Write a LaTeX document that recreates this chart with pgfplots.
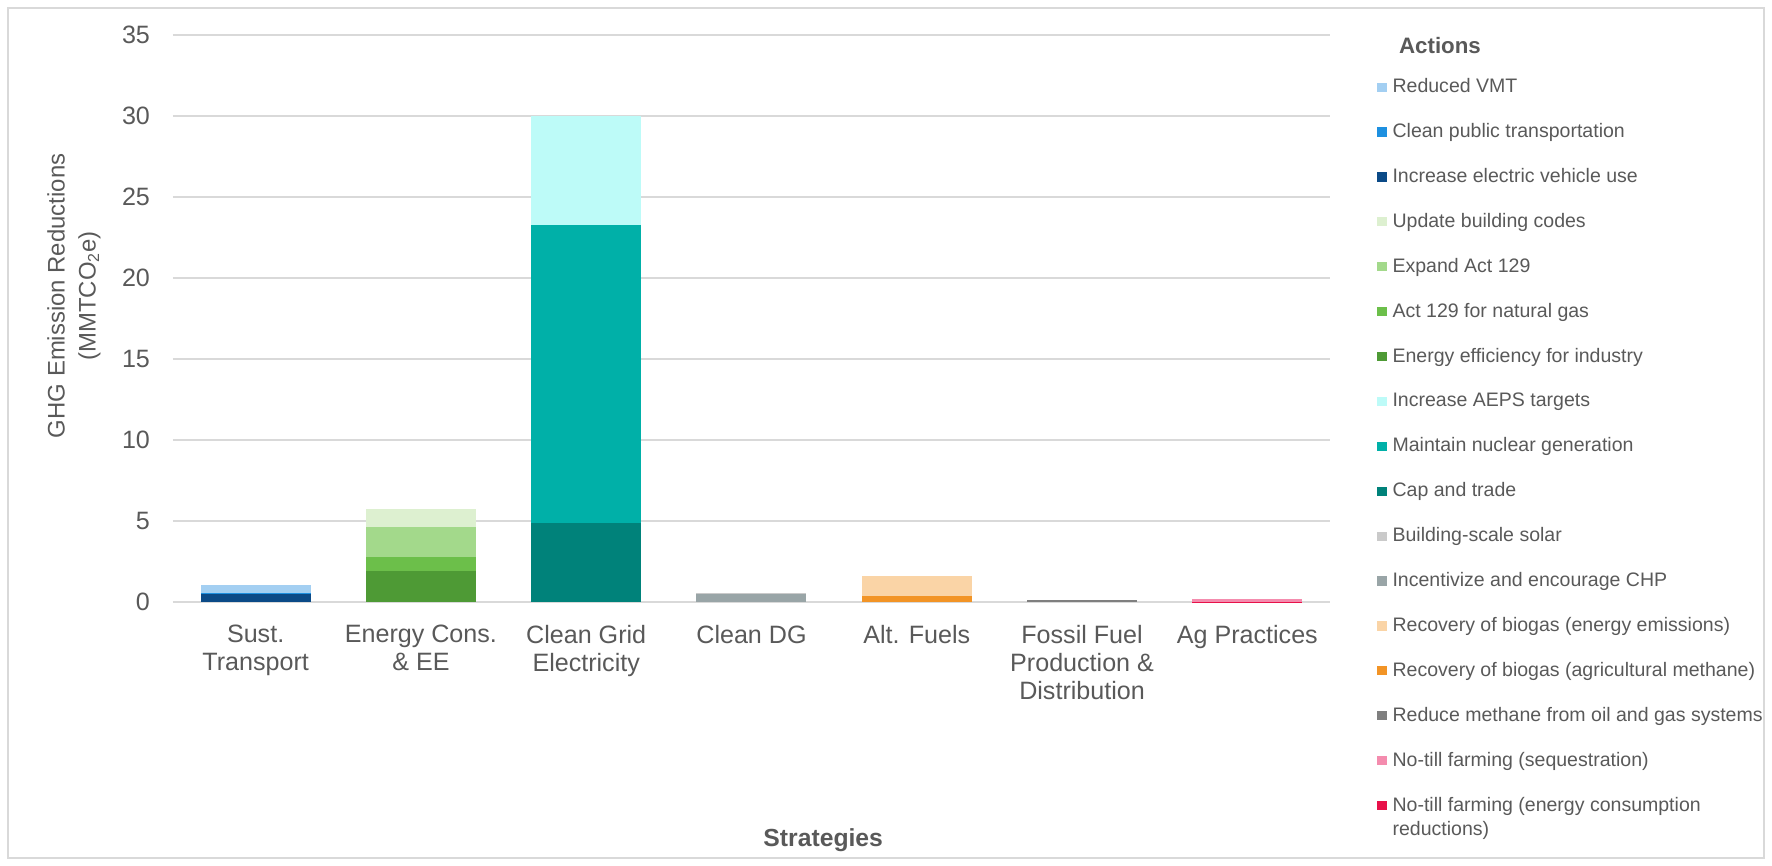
\documentclass[border=0pt]{standalone}
\usepackage{pgfplots}
\pgfplotsset{compat=1.18}
\usepackage{pgfplotstable}
\usepackage{fontspec}
\setmainfont{Liberation Sans}

\definecolor{txt}{HTML}{595959}
\definecolor{gridc}{HTML}{D9D9D9}
\definecolor{framec}{HTML}{D9D9D9}
\definecolor{c1}{HTML}{A3CFF2}
\definecolor{c2}{HTML}{1E90E0}
\definecolor{c3}{HTML}{0B4A87}
\definecolor{c4}{HTML}{DDF0D0}
\definecolor{c5}{HTML}{A3D98B}
\definecolor{c6}{HTML}{6CBF4A}
\definecolor{c7}{HTML}{4E9A35}
\definecolor{c8}{HTML}{BDFBF8}
\definecolor{c9}{HTML}{00B0A8}
\definecolor{c10}{HTML}{00827A}
\definecolor{c11}{HTML}{CACACA}
\definecolor{c12}{HTML}{99A5A7}
\definecolor{c13}{HTML}{FAD4A6}
\definecolor{c14}{HTML}{F29426}
\definecolor{c15}{HTML}{7F7F7F}
\definecolor{c16}{HTML}{F48CAE}
\definecolor{c17}{HTML}{E8114A}

\pgfplotstableread{
x  s1   s2   s3   s4   s5   s6   s7   s8   s9    s10  s11  s12  s13  s14  s15  s16  s17
0  0.50 0.02 0.52 0    0    0    0    0    0     0    0    0    0    0    0    0    0
1  0    0    0    1.12 1.88 0.85 1.90 0    0     0    0    0    0    0    0    0    0
2  0    0    0    0    0    0    0    6.70 18.45 4.85 0    0    0    0    0    0    0
3  0    0    0    0    0    0    0    0    0     0    0.04 0.52 0    0    0    0    0
4  0    0    0    0    0    0    0    0    0     0    0    0    1.23 0.39 0    0    0
5  0    0    0    0    0    0    0    0    0     0    0    0    0    0    0.10 0    0
6  0    0    0    0    0    0    0    0    0     0    0    0    0    0    0    0.15 0.03
}\data

\pgfplotsset{
  sq/.style={legend image code/.code={\fill[##1] (0bp,-2.3bp) rectangle (4.6bp,2.3bp);}},
  B/.style={fill=#1, draw=none, sq},
}

\newcommand{\fs}{\fontsize{9.8}{12.2}\selectfont}
\newcommand{\fa}{\fontsize{12.6}{14.2}\selectfont}
\newcommand{\fy}{\fontsize{12}{15.5}\selectfont}

\begin{document}
\begin{tikzpicture}
\useasboundingbox (-86.5bp,-132bp) rectangle (799.5bp,301bp);
\draw[framec, line width=0.7bp] (-82.5bp,-128bp) rectangle (795.5bp,297bp);
\begin{axis}[
  scale only axis,
  clip=false,
  width=578.5bp, height=283.5bp,
  ybar stacked,
  bar width=55bp,
  xmin=-0.5, xmax=6.5,
  ymin=0, ymax=35,
  ytick={0,5,...,35},
  xtick={0,...,6},
  xticklabels={{Sust.\\Transport},{Energy Cons.\\\& EE},{Clean Grid\\Electricity},{Clean DG},{Alt. Fuels},{Fossil Fuel\\Production \&\\Distribution},{Ag Practices}},
  /pgf/number format/assume math mode=true,
  axis x line*=bottom,
  axis y line*=left,
  y axis line style={draw=none},
  x axis line style={draw=gridc, line width=0.7bp},
  major tick length=0pt,
  ymajorgrids,
  grid style={draw=gridc, line width=0.7bp},
  yticklabel style={font=\fa, color=txt, xshift=-8bp},
  xticklabel style={font=\fa, color=txt, align=center, yshift=-8bp},
  ylabel={GHG Emission Reductions\\(MMTCO\textsubscript{2}e)},
  ylabel style={font=\fy, color=txt, align=center, at={(axis description cs:-0.0856,0.54)}, anchor=center},
  xlabel={Strategies},
  xlabel style={font=\fontsize{12.4}{14}\selectfont\bfseries, color=txt, at={(axis description cs:0.562,-0.42)}, anchor=center},
  reverse legend,
  legend cell align=left,
  legend style={draw=none, fill=none, at={(1.0406,0.9273)}, anchor=north west,
    inner sep=0pt, row sep=11.95bp, font=\fs, text=txt,
    nodes={inner ysep=0pt, inner xsep=3bp, text height=8bp, text depth=2.5bp}},
]
\addplot[B=c17] table[x=x, y=s17] {\data}; \addlegendentry{\parbox[t]{200bp}{\raggedright No-till farming (energy consumption\newline reductions)}}
\addplot[B=c16] table[x=x, y=s16] {\data}; \addlegendentry{No-till farming (sequestration)}
\addplot[B=c15] table[x=x, y=s15] {\data}; \addlegendentry{Reduce methane from oil and gas systems}
\addplot[B=c14] table[x=x, y=s14] {\data}; \addlegendentry{Recovery of biogas (agricultural methane)}
\addplot[B=c13] table[x=x, y=s13] {\data}; \addlegendentry{Recovery of biogas (energy emissions)}
\addplot[B=c12] table[x=x, y=s12] {\data}; \addlegendentry{Incentivize and encourage CHP}
\addplot[B=c11] table[x=x, y=s11] {\data}; \addlegendentry{Building-scale solar}
\addplot[B=c10] table[x=x, y=s10] {\data}; \addlegendentry{Cap and trade}
\addplot[B=c9] table[x=x, y=s9] {\data}; \addlegendentry{Maintain nuclear generation}
\addplot[B=c8] table[x=x, y=s8] {\data}; \addlegendentry{Increase AEPS targets}
\addplot[B=c7] table[x=x, y=s7] {\data}; \addlegendentry{Energy efficiency for industry}
\addplot[B=c6] table[x=x, y=s6] {\data}; \addlegendentry{Act 129 for natural gas}
\addplot[B=c5] table[x=x, y=s5] {\data}; \addlegendentry{Expand Act 129}
\addplot[B=c4] table[x=x, y=s4] {\data}; \addlegendentry{Update building codes}
\addplot[B=c3] table[x=x, y=s3] {\data}; \addlegendentry{Increase electric vehicle use}
\addplot[B=c2] table[x=x, y=s2] {\data}; \addlegendentry{Clean public transportation}
\addplot[B=c1] table[x=x, y=s1] {\data}; \addlegendentry{Reduced VMT}
\node[font=\fontsize{11.2}{13}\selectfont\bfseries, color=txt, anchor=base west] at (axis description cs:1.0536,0.968) {Actions};
\end{axis}
\end{tikzpicture}
\end{document}
